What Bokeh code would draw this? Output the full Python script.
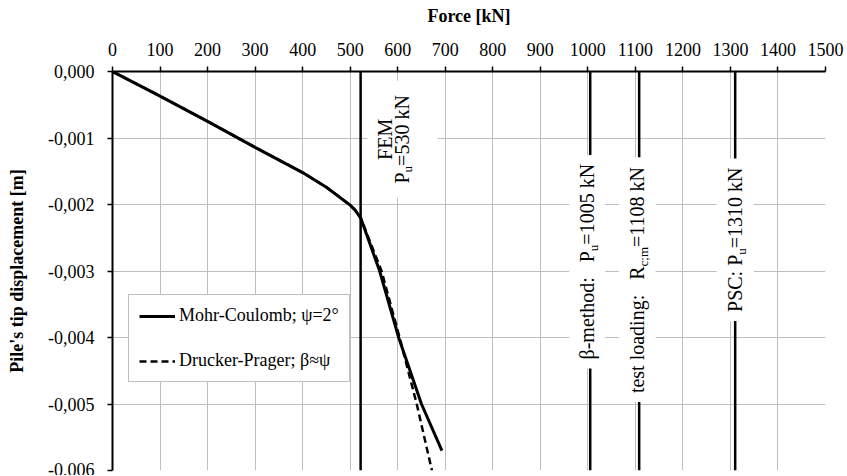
from bokeh.plotting import figure
from bokeh.models import Range1d, FixedTicker, Label, Legend, LegendItem
from bokeh.embed import file_html
from bokeh.resources import INLINE

# ---------------- data ----------------
force_ticks = list(range(0, 1501, 100))
disp_ticks = [0.0, -0.001, -0.002, -0.003, -0.004, -0.005, -0.006]
disp_tick_labels = ["0,000", "-0,001", "-0,002", "-0,003", "-0,004", "-0,005", "-0,006"]

mc_force = [0, 100, 200, 300, 400, 450, 500, 510, 522, 562, 602, 650, 693]
mc_disp = [0.0, -0.00037, -0.00075, -0.00114, -0.00152, -0.00174, -0.00201, -0.00208,
           -0.00220, -0.00300, -0.00400, -0.00500, -0.00570]

dp_force = [0, 100, 200, 300, 400, 450, 500, 510, 522, 566, 604, 640, 672]
dp_disp = [0.0, -0.00037, -0.00075, -0.00114, -0.00152, -0.00174, -0.00201, -0.00208,
           -0.00220, -0.00300, -0.00400, -0.00500, -0.00600]

# reference lines (force at which each vertical line is drawn)
ref_force = [522, 1005, 1108, 1310]

FONT = "Liberation Serif"
X0, X1 = 0, 1500
Y0, Y1 = -0.006, 0.0
WIDTH, HEIGHT = 846, 475
MB_L, MB_R, MB_T, MB_B = 112, 21, 71, 5
FRAME_W = WIDTH - MB_L - MB_R
FRAME_H = HEIGHT - MB_T - MB_B
KX = (X1 - X0) / FRAME_W   # data units per px
KY = (Y1 - Y0) / FRAME_H

p = figure(width=WIDTH, height=HEIGHT, x_range=Range1d(X0, X1), y_range=Range1d(Y0, Y1),
           x_axis_location="above", output_backend="svg", toolbar_location=None,
           min_border_left=MB_L, min_border_right=MB_R, min_border_top=MB_T,
           min_border_bottom=MB_B)
p.outline_line_color = None
p.background_fill_color = "white"
p.border_fill_color = "white"

# axes
for ax in (p.xaxis[0], p.yaxis[0]):
    ax.axis_line_color = "black"
    ax.axis_line_width = 2
    ax.major_tick_line_color = "black"
    ax.major_tick_line_width = 1.5
    ax.major_tick_out = 5
    ax.major_tick_in = 0
    ax.minor_tick_line_color = None
    ax.major_label_text_font = FONT
    ax.major_label_text_font_size = "18px"
    ax.major_label_text_color = "black"
    ax.axis_label_text_font = FONT
    ax.axis_label_text_font_size = "18px"
    ax.axis_label_text_font_style = "bold"
    ax.axis_label_text_color = "black"

p.xaxis.ticker = FixedTicker(ticks=force_ticks)
p.xaxis.axis_label = "Force [kN]"
p.xaxis.major_label_standoff = 11
p.xaxis.axis_label_standoff = 14

p.yaxis.ticker = FixedTicker(ticks=disp_ticks)
p.yaxis.major_label_overrides = dict(zip(disp_ticks, disp_tick_labels))
p.yaxis.axis_label = "Pile's tip displacement [m]"
p.yaxis.major_label_standoff = 13
p.yaxis.axis_label_standoff = 18

p.xgrid.ticker = FixedTicker(ticks=force_ticks)
p.ygrid.ticker = FixedTicker(ticks=disp_ticks)
p.grid.grid_line_color = "#bfbfbf"
p.grid.grid_line_width = 1

# vertical reference lines
p.segment(x0=ref_force, y0=[Y1] * len(ref_force), x1=ref_force, y1=[Y0] * len(ref_force),
          line_color="black", line_width=2.5)

# ---------------- rotated labels ----------------
W = {' ': 250, '-': 333, ':': 278, ';': 278, '=': 564, 'β': 500,
     'm': 778, 'e': 444, 't': 278, 'h': 500, 'o': 500, 'd': 500, 'P': 556,
     'u': 500, 'k': 500, 'N': 722, 'F': 556, 'E': 611, 'M': 889, 'l': 278,
     'a': 444, 'i': 278, 'n': 500, 'g': 500, 's': 389, 'R': 667, 'c': 444,
     'S': 556, 'C': 667}
for d in "0123456789":
    W[d] = 500

MAIN, SUB = 20, 13


def tw(s, size):
    return sum(W.get(ch, 500) for ch in s) * size / 1000.0


# (line index, centre displacement, [(x offset px, segments)], box (x offset px, width px, height px or None))
annotations = [
    (0, -0.00102, [(24, [("FEM", "n")]),
                   (41, [("P", "n"), ("u", "s"), ("=530 kN", "n")])], (42, 70, 117)),
    (1, -0.00286, [(-3, [("β-method:", "n"), ("   ", "n"), ("P", "n"), ("u", "s"),
                         ("=1005 kN", "n")])], (-3, 36, None)),
    (2, -0.00313, [(-2, [("test loading:", "n"), ("   ", "n"), ("R", "n"), ("c;m", "s"),
                         ("=1108 kN", "n")])], (-2, 37, None)),
    (3, -0.00253, [(0, [("PSC: P", "n"), ("u", "s"), ("=1310 kN", "n")])], (0, 37, None)),
]

q_left, q_right, q_top, q_bottom = [], [], [], []
labels = []
for idx, yc, lines, (bxo, bw, bh) in annotations:
    xl = ref_force[idx]
    maxlen = 0
    for xo, segs in lines:
        total = sum(tw(t, SUB if k == "s" else MAIN) for t, k in segs)
        maxlen = max(maxlen, total)
        cur = -total / 2.0
        for t, k in segs:
            size = SUB if k == "s" else MAIN
            if t.strip():
                labels.append(Label(x=xl, y=yc, x_offset=xo + (6 if k == "s" else 0), y_offset=cur,
                                    text=t, angle=90, angle_units="deg",
                                    text_align="left", text_baseline="middle",
                                    text_font=FONT, text_font_size=f"{size}px",
                                    text_color="black"))
            cur += tw(t, size)
    h = bh if bh is not None else maxlen + 18
    cx = xl + bxo * KX
    q_left.append(cx - bw / 2 * KX)
    q_right.append(cx + bw / 2 * KX)
    q_top.append(min(Y1, yc + h / 2 * KY))
    q_bottom.append(yc - h / 2 * KY)

p.quad(left=q_left, right=q_right, top=q_top, bottom=q_bottom,
       fill_color="white", line_color=None)

# ---------------- curves ----------------
r_dp = p.line(dp_force, dp_disp, line_color="black", line_width=2.5, line_dash="7 4")
r_mc = p.line(mc_force, mc_disp, line_color="black", line_width=3)

for lb in labels:
    p.add_layout(lb)

legend = Legend(items=[LegendItem(label="Mohr-Coulomb; ψ=2°", renderers=[r_mc]),
                       LegendItem(label="Drucker-Prager; β≈ψ", renderers=[r_dp])],
                location=(16, 88))
legend.label_text_font = FONT
legend.label_text_font_size = "18px"
legend.label_text_color = "black"
legend.glyph_width = 36
legend.glyph_height = 20
legend.label_height = 20
legend.label_standoff = 4
legend.padding = 10
legend.spacing = 24
legend.margin = 0
legend.border_line_color = "#7f7f7f"
legend.border_line_width = 1.5
legend.background_fill_color = "white"
legend.background_fill_alpha = 1.0
p.add_layout(legend, "center")

open("out.html", "w").write(file_html(p, INLINE))
